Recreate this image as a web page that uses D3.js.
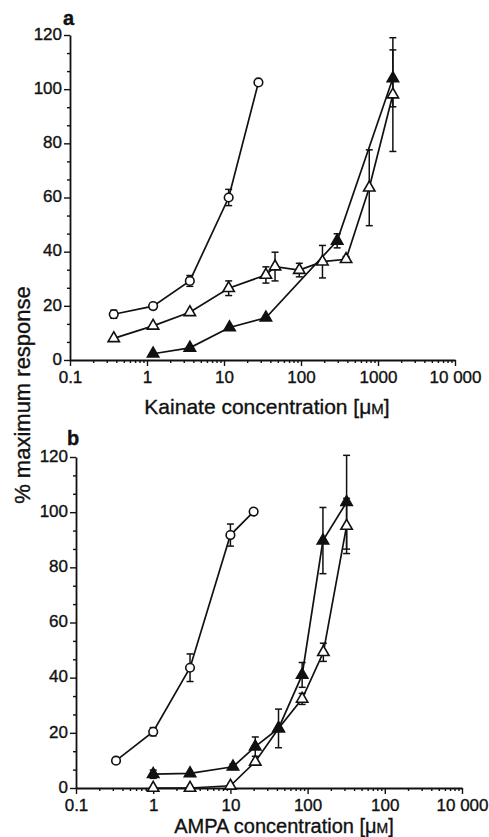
<!DOCTYPE html>
<html>
<head>
<meta charset="utf-8">
<script src="https://cdn.jsdelivr.net/npm/d3@7"></script>
<style>
  body { margin: 0; background: #fff; }
  svg text { font-family: "Liberation Sans", Arial, sans-serif; fill: #111; stroke: #111; stroke-width: 0.35px; }
</style>
</head>
<body>
<svg id="chart" width="489" height="837"></svg>
<script>
// values: [concentration µM, % max response, s.e.m.]
const kainateCircle = [[0.37, 16.9, 1.5], [1.2, 19.9, 1], [3.6, 29.2, 2], [11.5, 60, 3], [28, 102.5, 0]];
const kainateOpenTri = [[0.37, 8, 0], [1.2, 12.6, 0], [3.6, 17.6, 0], [11.5, 26.5, 2.7], [35, 31.4, 3],
  [46, 34.5, 5.3], [95, 33.2, 2.5], [190, 36.3, 6], [385, 37.2, 1], [770, 63.6, 14], [1560, 98, 21]];
const kainateFilledTri = [[1.2, 2.3, 0], [3.6, 4.5, 0], [11.8, 12, 0], [35, 15.6, 0], [295, 44, 2.6], [1560, 104, 10.5]];

const ampaCircle = [[0.33, 9.9, 0], [1, 20.4, 1.5], [3, 43.6, 5], [10, 91.7, 4], [20, 100.2, 0]];
const ampaOpenTri = [[1, 0, 0], [3, 0, 0], [10, 0.8, 0], [21, 9.5, 0], [42, 21.6, 0], [85, 32.3, 2],
  [160, 49.2, 3.3], [320, 95, 10]];
const ampaFilledTri = [[1, 5, 1.5], [3, 5.3, 0], [10.8, 7.7, 1], [21, 15, 3.5], [42, 21.6, 7], [85, 41, 4.5],
  [158, 89.7, 12], [320, 103.6, 17]];

const yTicks = [0, 20, 40, 60, 80, 100, 120];
const xTickValues = [0.1, 1, 10, 100, 1000, 10000];
const xTickLabelsA = ["0.1", "1", "10", "100", "1000", "10 000"];
const xTickLabelsB = ["0.1", "1", "10", "100", "100", "10 000"];

const svg = d3.select("#chart");

function drawPanel(opt) {
  const x = d3.scaleLog().domain([0.1, 10000]).range(opt.xr);
  const y = d3.scaleLinear().domain([0, 120]).range(opt.yr);
  const g = svg.append("g");

  // y axis: majors every 20, minors in thirds
  const minorY = d3.range(0, 121, 20 / 3).filter(v => Math.abs(v % 20) > 0.5 && Math.abs(v % 20 - 20) > 0.5);
  g.append("g").attr("transform", `translate(${opt.xr[0]},0)`)
    .call(d3.axisLeft(y).tickValues(minorY).tickSize(3).tickFormat(""))
    .call(a => a.select(".domain").remove());
  g.append("g").attr("transform", `translate(${opt.xr[0]},0)`)
    .call(d3.axisLeft(y).tickValues(yTicks).tickSize(6).tickPadding(2).tickSizeOuter(0))
    .call(a => a.selectAll(".tick text").attr("dy", "0.25em"));

  // x axis: decades plus 2..9 minors
  const minorX = [];
  [0.1, 1, 10, 100, 1000].forEach(d => { for (let k = 2; k < 10; k++) minorX.push(d * k); });
  g.append("g").attr("transform", `translate(0,${opt.yr[0]})`)
    .call(d3.axisBottom(x).tickValues(minorX).tickSize(3).tickFormat(""))
    .call(a => a.select(".domain").remove());
  g.append("g").attr("transform", `translate(0,${opt.yr[0]})`)
    .call(d3.axisBottom(x).tickValues(xTickValues).tickSize(6).tickPadding(opt.xPad).tickSizeOuter(0)
      .tickFormat((d, i) => opt.labels[i]));

  g.selectAll(".domain").attr("stroke", "#111").attr("stroke-width", 1.8);
  g.selectAll(".tick line").attr("stroke", "#111").attr("stroke-width", 1.4);
  g.selectAll(".tick text").attr("font-size", 17).attr("fill", "#111")
    .attr("font-family", "'Liberation Sans', Arial, sans-serif");

  const line = d3.line().x(d => x(d[0])).y(d => y(d[1]));

  opt.series.forEach(s => {
    g.append("path").datum(s.data).attr("d", line)
      .attr("fill", "none").attr("stroke", "#111").attr("stroke-width", 1.7);
  });

  opt.series.forEach(s => {
    const eb = g.append("g").attr("stroke", "#111").attr("stroke-width", 1.5);
    s.data.filter(d => d[2] > 0).forEach(d => {
      const cx = x(d[0]), top = y(d[1] + d[2]), bot = y(d[1] - d[2]);
      eb.append("line").attr("x1", cx).attr("x2", cx).attr("y1", top).attr("y2", bot);
      eb.append("line").attr("x1", cx - 3.5).attr("x2", cx + 3.5).attr("y1", top).attr("y2", top);
      eb.append("line").attr("x1", cx - 3.5).attr("x2", cx + 3.5).attr("y1", bot).attr("y2", bot);
    });
  });

  opt.series.forEach(s => {
    const sym = s.shape === "circle" ? d3.symbol(d3.symbolCircle, 58) : d3.symbol(d3.symbolTriangle, 56);
    g.append("g").selectAll("path").data(s.data).join("path")
      .attr("d", sym)
      .attr("transform", d => `translate(${x(d[0])},${y(d[1])})`)
      .attr("fill", s.filled ? "#111" : "#fff")
      .attr("stroke", "#111").attr("stroke-width", 1.6);
  });

  const t = g.append("text").attr("x", opt.titleX).attr("y", opt.titleY)
    .attr("text-anchor", "middle").attr("font-size", opt.titleSize).text(opt.title + " [μ");
  t.append("tspan").attr("font-size", opt.titleSize - 6).text("M");
  t.append("tspan").text("]");

  g.append("text").attr("x", opt.letter[0]).attr("y", opt.letter[1])
    .attr("font-size", 20).attr("font-weight", "bold").text(opt.letterText);
}

drawPanel({
  xr: [70, 455], yr: [360, 35], labels: xTickLabelsA, xPad: 5.3,
  title: "Kainate concentration", titleX: 267, titleY: 414, titleSize: 21,
  letter: [63, 25], letterText: "a",
  series: [
    { data: kainateCircle, shape: "circle", filled: false },
    { data: kainateFilledTri, shape: "tri", filled: true },
    { data: kainateOpenTri, shape: "tri", filled: false }
  ]
});

drawPanel({
  xr: [76, 462], yr: [788, 457], labels: xTickLabelsB, xPad: 5,
  title: "AMPA concentration", titleX: 284, titleY: 832.7, titleSize: 20,
  letter: [67, 445], letterText: "b",
  series: [
    { data: ampaCircle, shape: "circle", filled: false },
    { data: ampaOpenTri, shape: "tri", filled: false },
    { data: ampaFilledTri, shape: "tri", filled: true }
  ]
});

svg.append("text")
  .attr("transform", "translate(30,395) rotate(-90)")
  .attr("text-anchor", "middle").attr("font-size", 22)
  .text("% maximum response");
</script>
</body>
</html>
